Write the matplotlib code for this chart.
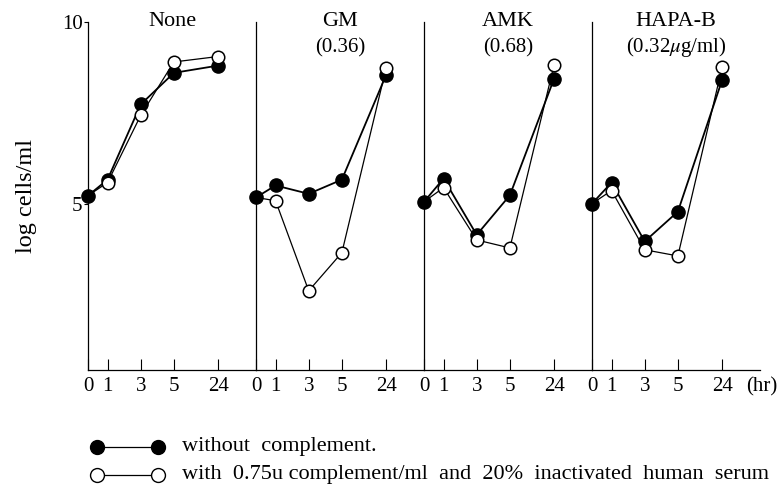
import matplotlib
matplotlib.use("Agg")
import matplotlib.pyplot as plt
from matplotlib.lines import Line2D

plt.rcParams['font.family'] = ['Liberation Serif', 'DejaVu Serif']
plt.rcParams['mathtext.fontset'] = 'stix'

hours = ['0', '1', '3', '5', '24']
drugs = ['None', 'GM', 'AMK', 'HAPA-B']
concs = ['', '(0.36)', '(0.68)', '(0.32$\\mu$g/ml)']

# log cells/ml, without complement (filled)
without_compl = [
    [5.22, 5.66, 7.73, 8.60, 8.80],
    [5.17, 5.50, 5.27, 5.66, 8.54],
    [5.05, 5.69, 4.14, 5.23, 8.44],
    [5.00, 5.58, 3.96, 4.78, 8.40],
]
# with complement + inactivated serum (open); first point shared with filled
with_compl = [
    [5.22, 5.58, 7.43, 8.90, 9.05],
    [5.17, 5.08, 2.60, 3.65, 8.73],
    [5.05, 5.44, 4.00, 3.78, 8.82],
    [5.00, 5.36, 3.73, 3.56, 8.75],
]

# uneven spacing of the time axis inside each panel
tick_pos = [0, 1.15, 3.1, 5.05, 7.65]
panel_w = 9.88

fig = plt.figure(figsize=(7.8, 4.95), dpi=100)
left, right = 88 / 780, 760 / 780
bottom, top = 1 - 370 / 495, 1 - 22 / 495
w = (right - left) / 4

for i in range(4):
    ax = fig.add_axes([left + i * w, bottom, w, top - bottom])
    ax.set_xlim(0, panel_w)
    ax.set_ylim(0.42, 10)
    for s in ['top', 'right']:
        ax.spines[s].set_visible(False)
    ax.spines['left'].set_linewidth(0.9)
    ax.spines['bottom'].set_linewidth(0.9)

    ax.plot(tick_pos, without_compl[i], '-', color='black', lw=1.3,
            marker='o', ms=9.5, mfc='black', mec='black', zorder=3, clip_on=False)
    ax.plot(tick_pos, with_compl[i], '-', color='black', lw=0.9, zorder=4, clip_on=False)
    ax.plot(tick_pos[1:], with_compl[i][1:], 'o', ms=9, mfc='white', mec='black',
            mew=1.1, zorder=5, clip_on=False)

    ax.set_xticks(tick_pos)
    ax.set_xticklabels(hours, fontsize=15)
    ax.tick_params(axis='x', direction='in', length=8, width=0.8, pad=5)

    if i == 0:
        ax.set_yticks([5, 10])
        ax.set_yticklabels(['5', '10'], fontsize=15)
        ax.tick_params(axis='y', direction='out', length=3, width=0.8, pad=1)
        ax.set_ylabel('log cells/ml', fontsize=17.5, labelpad=18)
    else:
        ax.set_yticks([])

    ax.text(panel_w / 2, 10.0, drugs[i], ha='center', va='center', fontsize=16)
    if concs[i]:
        ax.text(panel_w / 2, 9.3, concs[i], ha='center', va='center', fontsize=15)

fig.text(762 / 780, 1 - 387 / 495, '(hr)', ha='center', va='center', fontsize=15)

# legend drawn in figure coordinates
for row, (fc, label) in enumerate([
        ('black', 'without  complement.'),
        ('white', 'with  0.75u complement/ml  and  20%  inactivated  human  serum')]):
    y = 1 - (447 + row * 28) / 495
    fig.add_artist(Line2D([97 / 780, 158 / 780], [y, y], color='black', lw=0.9,
                          marker='o', ms=10, mfc=fc, mec='black',
                          transform=fig.transFigure))
    fig.text(182 / 780, y, label, ha='left', va='center', fontsize=16)

fig.savefig('out.png', dpi=100)
